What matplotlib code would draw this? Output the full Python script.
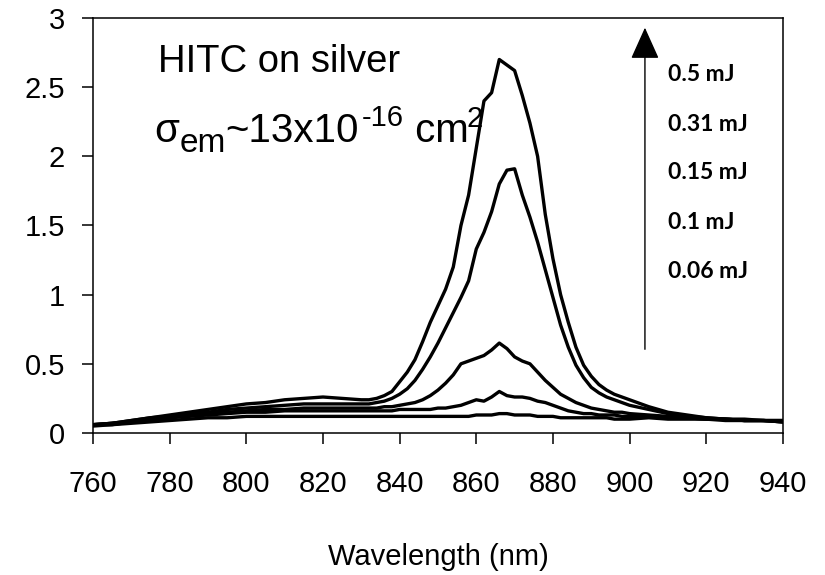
import matplotlib
matplotlib.use("Agg")
import matplotlib.pyplot as plt
from matplotlib.transforms import IdentityTransform

plt.rcParams["font.family"] = ["Liberation Sans", "DejaVu Sans"]

# wavelength grid (nm)
wavelength = [760, 765, 770, 775, 780, 785, 790, 795, 800, 805, 810, 815, 820, 825, 830,
              832, 834, 836, 838, 840, 842, 844, 846, 848, 850, 852, 854, 856, 858, 860,
              862, 864, 866, 868, 870, 872, 874, 876, 878, 880, 882, 884, 886, 888, 890,
              892, 894, 896, 898, 900,
              905, 910, 915, 920, 925, 930, 935, 940]

# emission intensity for each pump energy
e_050 = [0.06, 0.07, 0.09, 0.11, 0.13, 0.15, 0.17, 0.19, 0.21, 0.22, 0.24, 0.25, 0.26, 0.25, 0.24,
         0.24, 0.25, 0.27, 0.30, 0.37, 0.44, 0.53, 0.66, 0.80, 0.92, 1.04, 1.20, 1.50, 1.72, 2.06,
         2.40, 2.46, 2.70, 2.66, 2.62, 2.44, 2.24, 2.00, 1.58, 1.26, 1.00, 0.80, 0.62, 0.49, 0.41,
         0.35, 0.31, 0.28, 0.26, 0.24,
         0.19, 0.15, 0.13, 0.11, 0.10, 0.10, 0.09, 0.08]
e_031 = [0.06, 0.07, 0.09, 0.11, 0.12, 0.14, 0.15, 0.17, 0.18, 0.19, 0.20, 0.21, 0.21, 0.21, 0.21,
         0.21, 0.22, 0.23, 0.25, 0.28, 0.32, 0.38, 0.46, 0.55, 0.65, 0.76, 0.87, 0.98, 1.10, 1.33,
         1.45, 1.60, 1.80, 1.90, 1.91, 1.72, 1.56, 1.38, 1.18, 0.98, 0.78, 0.62, 0.49, 0.40, 0.33,
         0.29, 0.26, 0.24, 0.22, 0.20,
         0.17, 0.14, 0.12, 0.11, 0.10, 0.09, 0.09, 0.08]
e_015 = [0.06, 0.07, 0.08, 0.10, 0.11, 0.13, 0.14, 0.15, 0.16, 0.17, 0.17, 0.18, 0.18, 0.18, 0.18,
         0.18, 0.18, 0.19, 0.19, 0.20, 0.21, 0.22, 0.24, 0.27, 0.31, 0.36, 0.42, 0.50, 0.52, 0.54,
         0.56, 0.60, 0.65, 0.61, 0.55, 0.52, 0.50, 0.44, 0.38, 0.33, 0.28, 0.25, 0.22, 0.20, 0.18,
         0.17, 0.16, 0.15, 0.15, 0.14,
         0.13, 0.12, 0.11, 0.10, 0.10, 0.09, 0.09, 0.08]
e_010 = [0.05, 0.06, 0.08, 0.09, 0.11, 0.12, 0.13, 0.14, 0.15, 0.15, 0.16, 0.16, 0.16, 0.16, 0.16,
         0.16, 0.16, 0.16, 0.16, 0.17, 0.17, 0.17, 0.17, 0.17, 0.18, 0.18, 0.19, 0.20, 0.22, 0.24,
         0.23, 0.26, 0.30, 0.27, 0.26, 0.26, 0.25, 0.23, 0.22, 0.20, 0.18, 0.16, 0.15, 0.14, 0.14,
         0.13, 0.13, 0.13, 0.12, 0.12,
         0.12, 0.11, 0.11, 0.10, 0.10, 0.09, 0.09, 0.09]
e_006 = [0.06, 0.06, 0.07, 0.08, 0.09, 0.10, 0.11, 0.11, 0.12, 0.12, 0.12, 0.12, 0.12, 0.12, 0.12,
         0.12, 0.12, 0.12, 0.12, 0.12, 0.12, 0.12, 0.12, 0.12, 0.12, 0.12, 0.12, 0.12, 0.12, 0.13,
         0.13, 0.13, 0.14, 0.14, 0.13, 0.13, 0.13, 0.12, 0.12, 0.12, 0.11, 0.11, 0.11, 0.11, 0.11,
         0.11, 0.11, 0.10, 0.10, 0.10,
         0.11, 0.10, 0.10, 0.10, 0.09, 0.09, 0.09, 0.09]

energy_labels = ["0.5 mJ", "0.31 mJ", "0.15 mJ", "0.1 mJ", "0.06 mJ"]
curves = [e_050, e_031, e_015, e_010, e_006]

fig = plt.figure(figsize=(8.25, 5.75), dpi=100)
ax = fig.add_axes([0.1127, 0.247, 0.8363, 0.7217])

for spec in curves[::-1]:
    ax.plot(wavelength, spec, color="black", lw=2.4, solid_joinstyle="round")

ax.set_xlim(760, 940)
ax.set_ylim(0, 3)
ax.set_xticks(range(760, 941, 20))
ax.set_yticks([0, 0.5, 1, 1.5, 2, 2.5, 3])
ax.set_yticklabels(["0", "0.5", "1", "1.5", "2", "2.5", "3"])
ax.tick_params(axis="both", direction="out", length=8, width=1.1, labelsize=21)
ax.tick_params(axis="x", pad=19)
ax.tick_params(axis="y", pad=12)
for s in ax.spines.values():
    s.set_linewidth(1.1)
ax.set_xlabel("Wavelength (nm)", fontsize=21, labelpad=32)

ax.text(777, 2.61, "HITC on silver", fontsize=27.5, va="baseline")

# sigma line: pieces laid out one after another (text, size, baseline shift px, gap px)
pieces = [("σ", 29, 0, 0), ("em", 24, -10, 0), ("~13x10", 29, 0, 0),
          ("-16", 21, 16, 3), (" cm", 29, 0, 0), ("2", 21, 15, -2)]
renderer = fig.canvas.get_renderer()
x0, y0 = ax.transData.transform((776, 2.10))
xc = x0
for txt, size, dy, gap in pieces:
    xc += gap
    t = ax.text(xc, y0 + dy, txt, fontsize=size, va="baseline",
                transform=IdentityTransform(), clip_on=False)
    xc = t.get_window_extent(renderer).x1

# arrow showing increasing pump energy
ax.annotate("", xy=(904, 2.95), xytext=(904, 0.585),
            arrowprops=dict(arrowstyle="-|>,head_length=2.0,head_width=0.9", color="black", lw=1.0))

label_y = [2.59, 2.23, 1.88, 1.52, 1.17]
for lab, yy in zip(energy_labels, label_y):
    ax.text(910, yy, lab, fontsize=16.5, fontfamily="Lato", fontweight="bold", va="center")

fig.savefig("out.png", dpi=100)
